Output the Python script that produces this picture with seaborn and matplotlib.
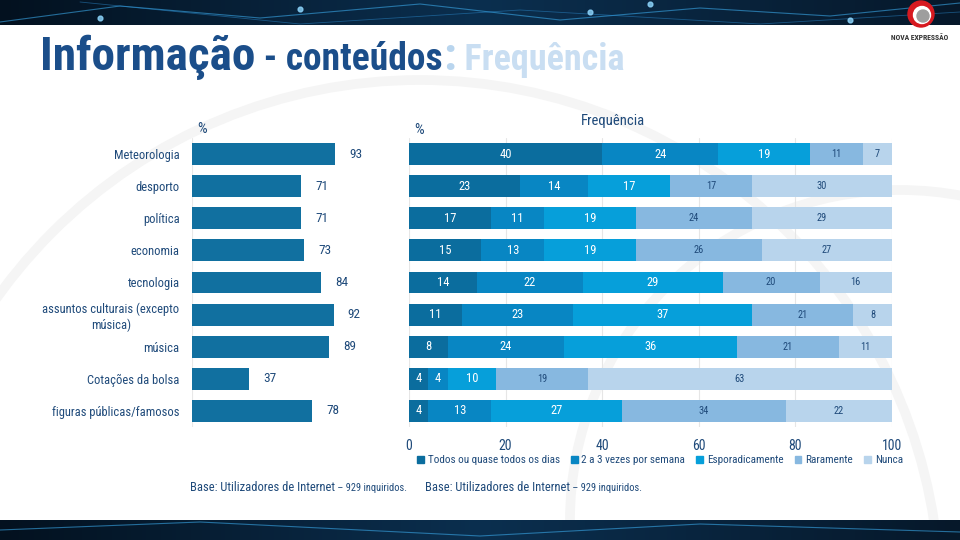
import numpy as np
import pandas as pd
import matplotlib
matplotlib.use('Agg')
import matplotlib.pyplot as plt
from matplotlib import font_manager
from matplotlib.patches import Patch, Circle
import seaborn as sns

# Data
categories = ['Meteorologia', 'desporto', 'política', 'economia', 'tecnologia',
              'assuntos culturais (excepto\nmúsica)', 'música',
              'Cotações da bolsa', 'figuras públicas/famosos']
penetration = [93, 71, 71, 73, 84, 92, 89, 37, 78]

series_names = ['Todos ou quase todos os dias', '2 a 3 vezes por semana',
                'Esporadicamente', 'Raramente', 'Nunca']
todos = [40, 23, 17, 15, 14, 11, 8, 4, 4]
semana = [24, 14, 11, 13, 22, 23, 24, 4, 13]
esporadico = [19, 17, 19, 19, 29, 37, 36, 10, 27]
raramente = [11, 17, 24, 26, 20, 21, 21, 19, 34]
nunca = [7, 30, 29, 27, 16, 8, 11, 63, 22]
x_ticks = [0, 20, 40, 60, 80, 100]

NAVY = '#1F4A7A'
BAR_LEFT = '#1170A0'
SERIES_COLORS = ['#0B6D9E', '#0886C3', '#069FDA', '#87B8E0', '#B8D4EC']
LABEL_COLORS = ['white', 'white', 'white', NAVY, NAVY]
LABEL_SIZES = [9, 9, 9, 7.5, 7.5]

sns.set_theme(style='white')
available = {f.name for f in font_manager.fontManager.ttflist}
cond = next((f for f in ['Liberation Sans Narrow', 'Roboto Condensed', 'Open Sans Condensed']
             if f in available), 'DejaVu Sans')
plt.rcParams['font.family'] = [cond, 'DejaVu Sans']

fig = plt.figure(figsize=(9.6, 5.4), dpi=100)
fig.patch.set_facecolor('white')

bottom = 1 - 427 / 540
height = (427 - 138) / 540

# Left chart: overall percentage
axl = fig.add_axes([192 / 960, bottom, 154 / 960, height])
df = pd.DataFrame({'cat': categories, 'pct': penetration})
sns.barplot(data=df, x='pct', y='cat', color=BAR_LEFT, saturation=1, width=0.68,
            linewidth=0, ax=axl)
axl.set_xlim(0, 100)
axl.set_xlabel('')
axl.set_ylabel('')
axl.set_xticks([])
axl.tick_params(axis='y', length=0, pad=9, labelsize=9, labelcolor=NAVY)
for lbl in axl.get_yticklabels():
    lbl.set_multialignment('center')
for s in axl.spines.values():
    s.set_visible(False)
axl.axvline(0, color='#E8E8E8', lw=0.8, zorder=0)
axl.bar_label(axl.containers[0], padding=10, color=NAVY, fontsize=9.5)
axl.patch.set_alpha(0)

# Right chart: stacked frequency
axr = fig.add_axes([409 / 960, bottom, 483 / 960, height])
stack = pd.DataFrame({n: v for n, v in zip(series_names, [todos, semana, esporadico, raramente, nunca])})
ypos = np.arange(len(categories))
left = np.zeros(len(categories))
handles = []
for i, name in enumerate(series_names):
    vals = stack[name].values
    bars = axr.barh(ypos, vals, left=left, height=0.68, color=SERIES_COLORS[i],
                    linewidth=0, zorder=2)
    axr.bar_label(bars, labels=[str(v) for v in vals], label_type='center',
                  color=LABEL_COLORS[i], fontsize=LABEL_SIZES[i])
    left += vals
    handles.append(Patch(color=SERIES_COLORS[i], label=name))
axr.set_xlim(0, 100)
axr.set_ylim(len(categories) - 0.5, -0.5)
axr.set_yticks([])
axr.set_xticks(x_ticks)
axr.tick_params(axis='x', length=0, pad=9, labelsize=10, labelcolor=NAVY)
axr.grid(axis='x', color='#E6E6E6', lw=0.8, zorder=0)
axr.grid(axis='y', visible=False)
for s in axr.spines.values():
    s.set_visible(False)
axr.patch.set_alpha(0)

fig.legend(handles=handles, loc='center', bbox_to_anchor=(660 / 960, 1 - 460 / 540), ncol=5,
           frameon=False, fontsize=8, handlelength=0.6, handleheight=0.6, handletextpad=0.35,
           columnspacing=1.0, labelcolor=NAVY, borderaxespad=0, borderpad=0)

# Decoration overlay in pixel coordinates
deco = fig.add_axes([0, 0, 1, 1], zorder=-1)
deco.set_xlim(0, 960)
deco.set_ylim(540, 0)
deco.axis('off')

# faint background arcs
for cx, cy, r in [(420, 600, 520), (900, 520, 330)]:
    deco.add_patch(Circle((cx, cy), r, fill=False, edgecolor='#F5F5F5', lw=7, zorder=0))

# top and bottom dark bands
grad = np.linspace(0, 1, 256).reshape(1, -1)
band_cmap = matplotlib.colors.LinearSegmentedColormap.from_list('band', ['#03111F', '#0B2F4F', '#06182A'])
deco.imshow(grad, extent=[0, 960, 25, 0], aspect='auto', cmap=band_cmap, zorder=1)
deco.imshow(grad, extent=[0, 960, 540, 520], aspect='auto', cmap=band_cmap, zorder=1)
glow_x = [0, 120, 260, 420, 560, 700, 830, 960]
glow_y = [22, 6, 18, 4, 20, 8, 16, 3]
deco.plot(glow_x, glow_y, color='#3AA8E8', lw=0.8, alpha=0.6, zorder=2)
deco.plot([80, 300, 520, 760, 960], [2, 24, 10, 24, 12], color='#2C8CD0', lw=0.6, alpha=0.5, zorder=2)
deco.scatter([100, 300, 590, 650, 850], [18, 9, 12, 4, 20], s=12, color='#8FD8FF', alpha=0.8, zorder=2)
deco.plot([0, 200, 480, 700, 960], [530, 522, 536, 524, 532], color='#3AA8E8', lw=0.8, alpha=0.6, zorder=2)
deco.set_xlim(0, 960)
deco.set_ylim(540, 0)

# logo
deco.add_patch(Circle((921, 14), 13, color='#D71920', zorder=3))
deco.add_patch(Circle((922, 15), 8.5, color='white', zorder=4))
deco.add_patch(Circle((923, 16), 6, color='#9E9E9E', zorder=5))
deco.text(920, 37, 'NOVA EXPRESSÃO', ha='center', va='center', fontsize=5.5,
          fontweight='bold', color='#333333', zorder=5)

fig.canvas.draw()
renderer = fig.canvas.get_renderer()


def text_run(x, y, parts):
    for txt, size, col, weight in parts:
        t = deco.text(x, y, txt, fontsize=size, color=col, fontweight=weight, va='baseline', ha='left', zorder=6)
        x += t.get_window_extent(renderer=renderer).width


text_run(40, 70, [('Informação', 34, '#1B4E8A', 'bold'),
                  (' - conteúdos', 27, '#1B4E8A', 'bold'),
                  (':', 34, '#B9D5EE', 'bold'),
                  (' Frequência', 26, '#C9DEF2', 'bold')])

deco.text(197, 133, '%', fontsize=11, color=NAVY, va='baseline', zorder=6)
deco.text(414, 134, '%', fontsize=11, color=NAVY, va='baseline', zorder=6)
deco.text(613, 125, 'Frequência', fontsize=10.5, color=NAVY, ha='center', va='baseline', zorder=6)

text_run(190, 491, [('Base: Utilizadores de Internet', 9, NAVY, 'normal'),
                    (' – 929 inquiridos.', 7.5, NAVY, 'normal')])
text_run(425, 491, [('Base: Utilizadores de Internet', 9, NAVY, 'normal'),
                    (' – 929 inquiridos.', 7.5, NAVY, 'normal')])

fig.savefig('out.png', dpi=100)
